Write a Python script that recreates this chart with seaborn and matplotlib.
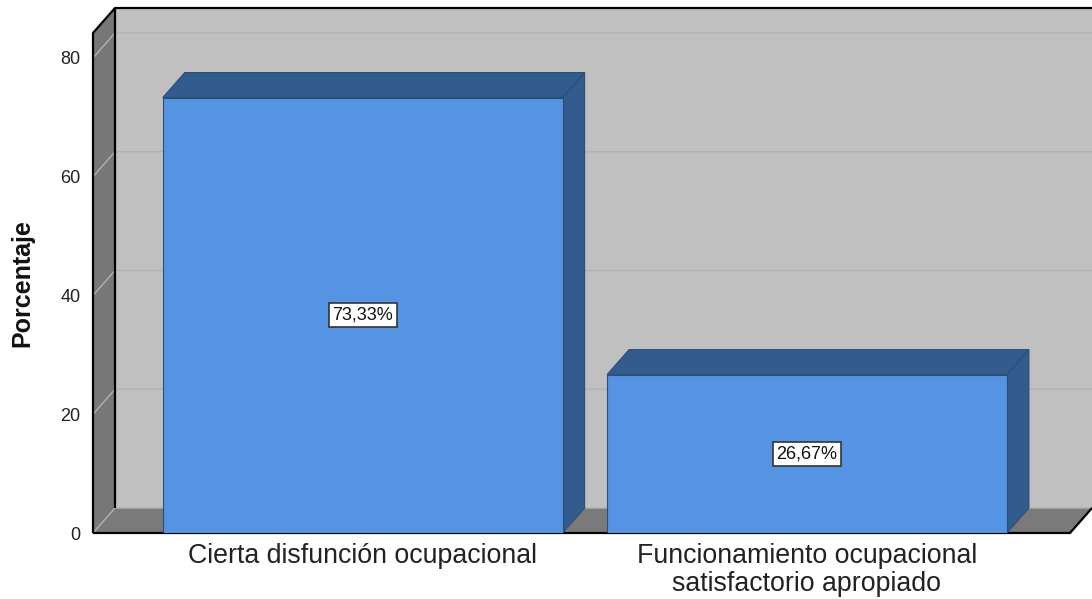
import matplotlib
matplotlib.use("Agg")
import matplotlib.pyplot as plt
import seaborn as sns
import pandas as pd
from matplotlib.patches import Polygon
from matplotlib.lines import Line2D

categorias = ["Cierta disfunción ocupacional",
              "Funcionamiento ocupacional\nsatisfactorio apropiado"]
porcentajes = [73.33, 26.67]
etiquetas = ["73,33%", "26,67%"]
ticks_y = [0, 20, 40, 60, 80]

sns.set_theme(style="white")
plt.rcParams["font.family"] = ["Liberation Sans", "DejaVu Sans"]

W, H, DPI = 1092, 599, 100
fig = plt.figure(figsize=(W / DPI, H / DPI), dpi=DPI)
fig.patch.set_facecolor("white")

# front plane of the 3D box
left_px, right_px, bottom_px, top_px = 93, 1070, 533, 33
ax = fig.add_axes([left_px / W, 1 - bottom_px / H,
                   (right_px - left_px) / W, (bottom_px - top_px) / H])

df = pd.DataFrame({"categoria": categorias, "porcentaje": porcentajes})
sns.barplot(data=df, x="categoria", y="porcentaje", color="#5494e3",
            saturation=1, width=0.9, edgecolor="#2c4d75", linewidth=0.8,
            ax=ax, zorder=5)

x0, x1 = -0.607, 1.592
y0, y1 = 0, 84.2
ax.set_xlim(x0, x1)
ax.set_ylim(y0, y1)
ax.patch.set_visible(False)
for s in ax.spines.values():
    s.set_visible(False)

# depth offset of the 3D box, in pixels converted to data units
DX, DY = 22, 25
dxd = DX * (x1 - x0) / (right_px - left_px)
dyd = DY * (y1 - y0) / (bottom_px - top_px)

wall_kw = dict(clip_on=False, linewidth=0)
# back wall
ax.add_patch(Polygon([(x0 + dxd, y0 + dyd), (x1 + dxd, y0 + dyd),
                      (x1 + dxd, y1 + dyd), (x0 + dxd, y1 + dyd)],
                     closed=True, facecolor="#c0c0c0", zorder=0.5, **wall_kw))
# left side wall
ax.add_patch(Polygon([(x0, y0), (x0, y1), (x0 + dxd, y1 + dyd), (x0 + dxd, y0 + dyd)],
                     closed=True, facecolor="#777777", zorder=0.7, **wall_kw))
# floor
ax.add_patch(Polygon([(x0, y0), (x1, y0), (x1 + dxd, y0 + dyd), (x0 + dxd, y0 + dyd)],
                     closed=True, facecolor="#7a7a7a", zorder=0.7, **wall_kw))

# gridlines on side wall and back wall
for t in ticks_y:
    ax.add_line(Line2D([x0, x0 + dxd, x1 + dxd], [t, t + dyd, t + dyd],
                       color="#b2b2b2", linewidth=1.0, clip_on=False, zorder=0.8))

# box outline
line_kw = dict(color="black", linewidth=1.6, clip_on=False, zorder=0.9,
               solid_capstyle="butt")
ax.add_line(Line2D([x0, x0, x0 + dxd, x1 + dxd], [y0, y1, y1 + dyd, y1 + dyd], **line_kw))
ax.add_line(Line2D([x0 + dxd, x0 + dxd], [y0 + dyd, y1 + dyd], **line_kw))
ax.add_line(Line2D([x0, x1, x1 + dxd], [y0, y0, y0 + dyd], **line_kw))

# 3D faces of the bars
dark = "#335c8e"
for p in list(ax.patches):
    if p.get_zorder() != 5:
        continue
    bx, bw, bh = p.get_x(), p.get_width(), p.get_height()
    ax.add_patch(Polygon([(bx + bw, 0), (bx + bw, bh), (bx + bw + dxd, bh + dyd),
                          (bx + bw + dxd, dyd)], closed=True, facecolor=dark,
                         edgecolor="#2c4d75", linewidth=0.8, zorder=4, clip_on=False))
    ax.add_patch(Polygon([(bx, bh), (bx + bw, bh), (bx + bw + dxd, bh + dyd),
                          (bx + dxd, bh + dyd)], closed=True, facecolor=dark,
                         edgecolor="#2c4d75", linewidth=0.8, zorder=4, clip_on=False))

# value labels
for i, (v, lab) in enumerate(zip(porcentajes, etiquetas)):
    ax.text(i, v / 2, lab, ha="center", va="center", fontsize=13, color="#111111",
            zorder=6, bbox=dict(boxstyle="square,pad=0.2", facecolor="white",
                                edgecolor="#333333", linewidth=1.2))

ax.set_yticks(ticks_y)
ax.set_yticklabels([str(t) for t in ticks_y])
ax.tick_params(axis="y", length=0, pad=9, labelsize=13, labelcolor="#222222")
ax.tick_params(axis="x", length=0, pad=7, labelsize=19.3, labelcolor="#222222")
for lbl in ax.get_xticklabels():
    lbl.set_linespacing(1.1)
ax.set_xlabel("")
ax.set_ylabel("")
fig.text(22 / W, 1 - 283 / H, "Porcentaje", rotation=90, ha="center", va="center",
         fontsize=18, fontweight="bold", color="#111111")

fig.savefig("out.png", dpi=DPI)
